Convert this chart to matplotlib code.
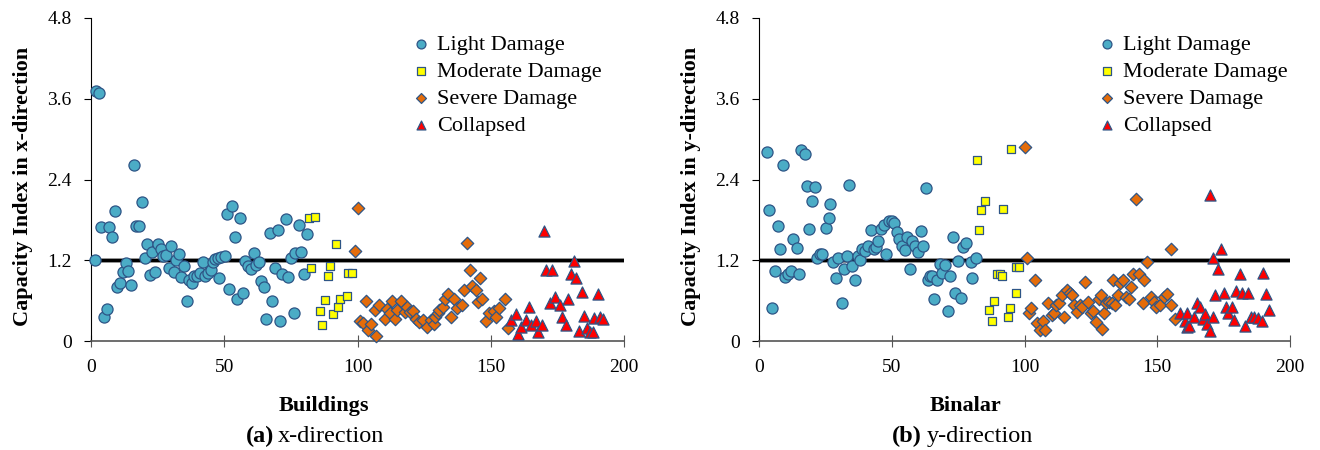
import matplotlib
matplotlib.use("Agg")
import matplotlib.pyplot as plt

plt.rcParams['font.family'] = ['Liberation Serif', 'DejaVu Serif']

# ---- (a) x-direction ----
light_x_a = [1.4, 1.8, 3.0, 3.8, 4.9, 5.9, 6.9, 8.0, 9.0, 9.9, 10.9, 11.9, 13.0, 14.0, 15.1,
             16.0, 16.8, 18.1, 19.0, 20.1, 21.1, 22.2, 23.0, 24.1, 25.1, 26.1, 27.1, 28.1,
             29.1, 30.1, 31.1, 31.8, 33.0, 33.9, 35.0, 36.0, 36.9, 37.9, 38.8, 39.9, 40.9,
             41.9, 42.9, 43.9, 44.9, 45.6, 46.6, 47.9, 47.7, 48.9, 50.1, 50.9, 51.9, 52.9,
             53.9, 54.9, 55.9, 56.9, 57.9, 58.9, 59.9, 61.0, 61.9, 62.9, 63.9, 64.8, 65.7,
             67.1, 68.1, 69.1, 70.0, 71.1, 71.8, 73.1, 74.1, 75.1, 76.1, 76.7, 78.0, 78.8,
             79.8, 80.9]
light_y_a = [1.20, 3.72, 3.69, 1.70, 0.36, 0.48, 1.70, 1.54, 1.93, 0.80, 0.86, 1.02, 1.16, 1.04,
             0.83, 2.62, 1.71, 1.71, 2.07, 1.24, 1.44, 0.98, 1.32, 1.03, 1.44, 1.36, 1.27, 1.28,
             1.09, 1.41, 1.03, 1.21, 1.29, 0.95, 1.12, 0.60, 0.90, 0.86, 0.97, 0.96, 1.01, 1.17,
             0.97, 1.01, 1.05, 1.17, 1.22, 0.93, 1.24, 1.25, 1.26, 1.88, 0.77, 2.00, 1.54, 0.63,
             1.83, 0.72, 1.19, 1.12, 1.07, 1.31, 1.13, 1.18, 0.89, 0.80, 0.33, 1.60, 0.60, 1.09,
             1.65, 0.29, 0.99, 1.81, 0.95, 1.24, 0.42, 1.31, 1.73, 1.32, 1.00, 1.59]
moderate_x_a = [81.7, 82.7, 83.9, 85.9, 86.7, 87.9, 88.8, 89.7, 90.7, 91.9, 92.7, 93.6, 95.9,
                96.4, 97.8]
moderate_y_a = [1.83, 1.08, 1.85, 0.45, 0.24, 0.61, 0.97, 1.11, 0.40, 1.44, 0.51, 0.63, 0.67,
                1.01, 1.01]
severe_x_a = [99.1, 100.0, 100.8, 102.2, 103.1, 103.9, 105.2, 106.4, 107.0, 108.2, 110.2, 111.1,
              112.1, 113.0, 114.2, 114.9, 116.2, 117.8, 118.7, 119.7, 120.9, 121.9, 123.2,
              124.5, 126.0, 127.5, 128.6, 129.0, 130.2, 130.5, 132.0, 133.0, 134.0, 135.2,
              136.2, 137.2, 139.2, 140.0, 141.2, 142.1, 143.1, 144.3, 145.4, 146.1, 146.9,
              148.1, 149.4, 151.3, 151.9, 153.1, 155.3, 156.3]
severe_y_a = [1.34, 1.98, 0.30, 0.27, 0.60, 0.16, 0.25, 0.46, 0.08, 0.54, 0.32, 0.48, 0.42, 0.60,
              0.32, 0.46, 0.60, 0.43, 0.51, 0.43, 0.44, 0.32, 0.28, 0.31, 0.21, 0.31, 0.26, 0.36,
              0.42, 0.46, 0.50, 0.63, 0.70, 0.35, 0.63, 0.49, 0.53, 0.76, 1.46, 1.05, 0.81, 0.76,
              0.58, 0.93, 0.63, 0.30, 0.41, 0.44, 0.35, 0.49, 0.63, 0.20]
collapsed_x_a = [157.5, 159.5, 160.3, 161.3, 163.3, 164.3, 165.1, 166.9, 167.8, 169.1, 170.1,
                 170.9, 172.1, 173.1, 174.2, 176.1, 176.9, 178.2, 179.1, 180.1, 181.1, 182.1,
                 183.1, 184.1, 185.1, 186.1, 187.2, 188.4, 188.7, 190.1, 191.0, 192.1]
collapsed_y_a = [0.31, 0.40, 0.10, 0.21, 0.31, 0.50, 0.24, 0.29, 0.14, 0.24, 1.64, 1.05, 0.56,
                 1.05, 0.66, 0.53, 0.36, 0.24, 0.62, 1.00, 1.19, 0.94, 0.15, 0.73, 0.37, 0.20,
                 0.14, 0.14, 0.34, 0.70, 0.35, 0.32]

# ---- (b) y-direction ----
light_x_b = [2.9, 3.9, 4.9, 5.9, 7.1, 7.9, 8.9, 9.9, 10.9, 11.9, 12.9, 14.2, 15.2, 15.9, 17.2,
             17.9, 18.9, 19.9, 21.2, 21.9, 22.9, 23.9, 25.2, 26.2, 26.9, 27.9, 28.9, 29.9, 31.2,
             32.2, 33.2, 33.9, 35.2, 36.2, 37.2, 38.2, 38.9, 39.9, 41.0, 42.2, 43.2, 43.9, 44.9,
             45.9, 47.0, 48.0, 49.0, 50.0, 51.0, 51.8, 52.8, 53.8, 54.9, 55.8, 57.0, 57.8, 58.8,
             59.8, 61.0, 61.8, 63.0, 63.5, 64.3, 65.0, 66.0, 67.0, 68.0, 69.0, 70.0, 71.0, 71.8,
             73.0, 74.0, 75.1, 76.0, 76.8, 78.1, 79.8, 80.1, 81.8]
light_y_b = [2.81, 1.94, 0.49, 1.04, 1.71, 1.37, 2.62, 0.95, 1.00, 1.04, 1.51, 1.38, 0.99, 2.84,
             2.78, 2.30, 1.66, 2.08, 2.29, 1.23, 1.30, 1.30, 1.68, 1.83, 2.04, 1.17, 0.94, 1.24,
             0.56, 1.07, 1.27, 2.32, 1.11, 0.90, 1.26, 1.21, 1.37, 1.34, 1.41, 1.65, 1.37, 1.40,
             1.48, 1.67, 1.73, 1.30, 1.79, 1.79, 1.76, 1.62, 1.52, 1.41, 1.35, 1.54, 1.07, 1.49,
             1.41, 1.32, 1.63, 1.41, 2.27, 0.91, 0.96, 0.97, 0.62, 0.90, 1.14, 1.01, 1.13, 0.44,
             0.97, 1.55, 0.71, 1.19, 0.64, 1.40, 1.46, 1.18, 0.94, 1.23]
moderate_x_b = [82.0, 82.8, 83.8, 85.0, 86.7, 87.6, 88.7, 89.8, 90.8, 91.7, 92.0, 93.6, 94.6,
                94.8, 96.7, 96.8, 97.8]
moderate_y_b = [2.69, 1.65, 1.94, 2.08, 0.46, 0.30, 0.59, 0.99, 1.00, 0.97, 1.96, 0.35, 0.49,
                2.85, 0.71, 1.10, 1.10]
severe_x_b = [100.0, 100.9, 101.6, 102.6, 103.9, 104.6, 105.9, 106.9, 107.9, 108.9, 110.2,
              111.2, 111.9, 112.9, 114.0, 115.0, 116.0, 117.0, 118.0, 118.8, 119.7, 120.8,
              121.8, 122.8, 123.8, 124.9, 125.9, 126.9, 127.9, 128.9, 129.2, 130.1, 130.7,
              131.9, 132.9, 133.5, 134.0, 135.1, 135.9, 137.0, 138.2, 139.2, 140.0, 140.9,
              142.1, 143.0, 144.7, 145.1, 146.1, 147.7, 148.7, 149.7, 151.2, 152.7, 153.8,
              155.0, 155.0, 156.8]
severe_y_b = [2.89, 1.23, 0.42, 0.49, 0.91, 0.27, 0.16, 0.30, 0.17, 0.57, 0.38, 0.42, 0.54, 0.56,
              0.69, 0.36, 0.76, 0.72, 0.69, 0.54, 0.43, 0.54, 0.50, 0.88, 0.58, 0.41, 0.44, 0.28,
              0.62, 0.69, 0.18, 0.41, 0.57, 0.58, 0.56, 0.90, 0.54, 0.69, 0.86, 0.90, 0.65, 0.62,
              0.80, 0.99, 2.11, 0.99, 0.57, 0.91, 1.18, 0.65, 0.58, 0.50, 0.53, 0.66, 0.70, 1.37,
              0.53, 0.32]
collapsed_x_b = [158.6, 160.3, 161.1, 161.2, 162.1, 163.9, 164.9, 166.2, 167.1, 167.9, 168.8,
                 169.8, 170.0, 170.9, 171.1, 171.8, 173.0, 174.0, 175.1, 175.8, 176.8, 178.1,
                 179.0, 179.6, 181.1, 181.8, 182.9, 184.1, 185.2, 186.5, 187.8, 189.3, 190.0,
                 191.1, 192.2]
collapsed_y_b = [0.42, 0.30, 0.21, 0.42, 0.23, 0.36, 0.57, 0.51, 0.32, 0.40, 0.25, 0.15, 2.17,
                 0.36, 1.24, 0.68, 1.07, 1.36, 0.72, 0.50, 0.41, 0.51, 0.31, 0.75, 0.99, 0.72,
                 0.22, 0.72, 0.36, 0.35, 0.34, 0.30, 1.01, 0.70, 0.46]

limit_value = 1.2
y_ticks = [0, 1.2, 2.4, 3.6, 4.8]
y_tick_labels = ['0', '1.2', '2.4', '3.6', '4.8']
x_ticks = [0, 50, 100, 150, 200]

edge = '#2E5586'
styles = {
    'Light Damage': dict(marker='o', s=64, c='#4BACC6'),
    'Moderate Damage': dict(marker='s', s=40, c='#FFFF00'),
    'Severe Damage': dict(marker='D', s=40, c='#E46C0A'),
    'Collapsed': dict(marker='^', s=64, c='#FF0000'),
}

fig = plt.figure(figsize=(13.2, 4.5), dpi=100)
W, H = 1320.0, 450.0


def draw_panel(left_px, right_px, series, ylabel, xlabel, tag, caption,
               ylabel_x, xlabel_x, tag_right, caption_left, legend_px):
    ax = fig.add_axes([left_px / W, 1 - 341 / H, (right_px - left_px) / W, (341 - 18) / H])
    ax.axhline(limit_value, color='#a6a6a6', lw=3.6, zorder=1)
    ax.axhline(limit_value, color='black', lw=2.3, zorder=1.1)
    for name, (xs, ys) in series.items():
        st = styles[name]
        ax.scatter(xs, ys, marker=st['marker'], s=st['s'], c=st['c'], edgecolors=edge,
                   linewidths=0.9, label=name, zorder=3, clip_on=False)
    ax.set_xlim(0, 200)
    ax.set_ylim(0, 4.8)
    ax.set_xticks(x_ticks)
    ax.set_yticks(y_ticks)
    ax.set_yticklabels(y_tick_labels)
    for s in ['top', 'right']:
        ax.spines[s].set_visible(False)
    ax.spines['left'].set_color('black')
    ax.spines['bottom'].set_color('#555555')
    ax.spines['bottom'].set_linewidth(1.2)
    ax.tick_params(axis='y', direction='out', length=5, pad=9, labelsize=14)
    ax.tick_params(axis='x', direction='inout', length=8, pad=9, labelsize=14, color='#555555')

    ax.legend(loc='upper left', bbox_to_anchor=(legend_px[0] / W, 1 - legend_px[1] / H),
              bbox_transform=fig.transFigure, frameon=False, fontsize=16,
              markerscale=0.8, handlelength=0.6, handletextpad=0.45,
              labelspacing=0.3, borderpad=0, borderaxespad=0)

    fig.text(ylabel_x / W, 1 - 186 / H, ylabel, rotation=90, ha='center', va='center',
             fontsize=16, fontweight='bold')
    fig.text(xlabel_x / W, 1 - 410.7 / H, xlabel, ha='center', va='baseline',
             fontsize=16, fontweight='bold')
    fig.text(tag_right / W, 1 - 441.7 / H, tag, ha='right', va='baseline',
             fontsize=17.5, fontweight='bold')
    fig.text(caption_left / W, 1 - 441.7 / H, caption, ha='left', va='baseline',
             fontsize=17.5)
    return ax


draw_panel(91, 624,
           {'Light Damage': (light_x_a, light_y_a),
            'Moderate Damage': (moderate_x_a, moderate_y_a),
            'Severe Damage': (severe_x_a, severe_y_a),
            'Collapsed': (collapsed_x_a, collapsed_y_a)},
           'Capacity Index in x-direction', 'Buildings', '(a)', 'x-direction',
           23, 324, 274, 278, (414, 34))

draw_panel(759, 1290,
           {'Light Damage': (light_x_b, light_y_b),
            'Moderate Damage': (moderate_x_b, moderate_y_b),
            'Severe Damage': (severe_x_b, severe_y_b),
            'Collapsed': (collapsed_x_b, collapsed_y_b)},
           'Capacity Index in y-direction', 'Binalar', '(b)', 'y-direction',
           691, 965, 922, 927, (1100, 34))

fig.savefig('out.png', dpi=100)
